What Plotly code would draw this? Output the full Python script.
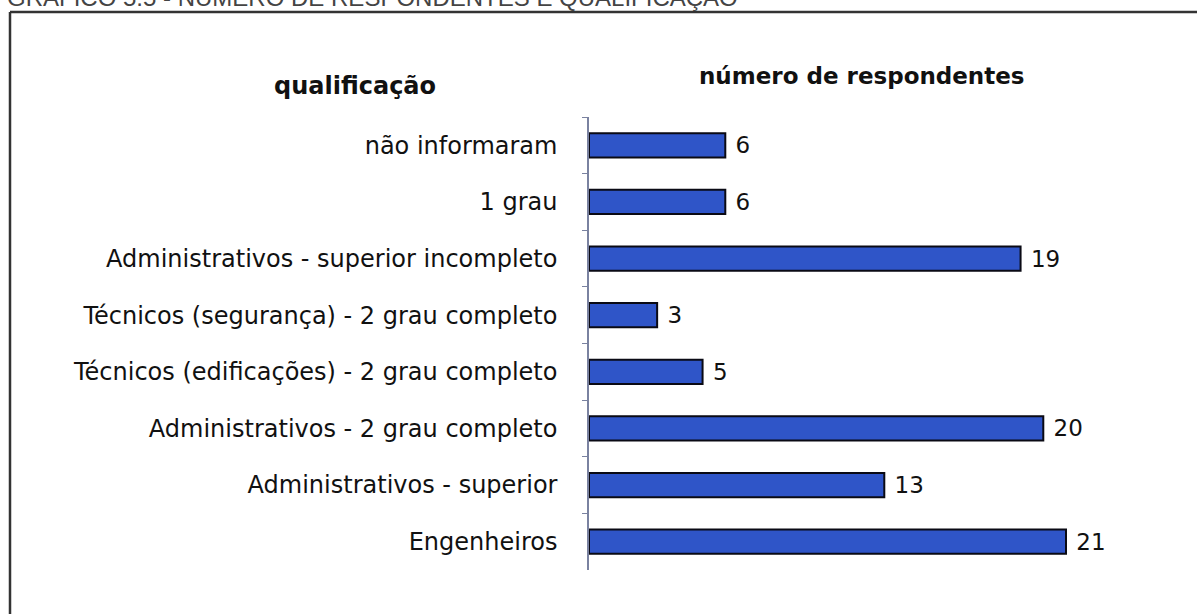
import plotly.graph_objects as go

categories = [
    "não informaram",
    "1 grau",
    "Administrativos - superior incompleto",
    "Técnicos (segurança) - 2 grau completo",
    "Técnicos (edificações) - 2 grau completo",
    "Administrativos - 2 grau completo",
    "Administrativos - superior",
    "Engenheiros",
]
values = [6, 6, 19, 3, 5, 20, 13, 21]

title_text = "GRÁFICO 5.5 - NÚMERO DE RESPONDENTES E QUALIFICAÇÃO"
left_header = "qualificação"
right_header = "número de respondentes"

W, H = 1197, 614
FONT = "DejaVu Sans, Liberation Sans, Arial, sans-serif"
TFONT = "Liberation Sans, Arial, sans-serif"

def px(x):
    return x / W

def py(y):
    return 1 - y / H

x0_px, x1_px = 589, 1150
unit_px = (1066 - 589) / 21.0

fig = go.Figure()
fig.add_trace(go.Bar(
    x=values,
    y=categories,
    orientation="h",
    marker=dict(color="#2f55c8", line=dict(color="#0a0a14", width=2)),
    width=0.43,
    texttemplate=" %{x}",
    textposition="outside",
    constraintext="none",
    textfont=dict(family=FONT, size=23, color="#111111"),
    cliponaxis=False,
    hoverinfo="x+y",
))

fig.update_layout(
    width=W, height=H,
    margin=dict(l=0, r=0, t=0, b=0),
    paper_bgcolor="white",
    plot_bgcolor="white",
    showlegend=False,
    font=dict(family=FONT, color="#111111"),
    xaxis=dict(
        domain=[px(x0_px), px(x1_px)],
        range=[0, (x1_px - x0_px) / unit_px],
        visible=False,
        showgrid=False,
        zeroline=False,
    ),
    yaxis=dict(
        domain=[py(570), py(117)],
        type="category",
        categoryorder="array",
        categoryarray=categories,
        range=[7.5, -0.5],
        showline=True,
        linecolor="#7a82a0",
        linewidth=1.5,
        ticks="outside",
        tickson="boundaries",
        ticklen=5,
        tickcolor="#7a82a0",
        tickwidth=1,
        ticklabelstandoff=25,
        showgrid=False,
        tickfont=dict(family=FONT, size=24, color="#111111"),
    ),
    shapes=[
        dict(type="line", xref="paper", yref="paper",
             x0=px(10), x1=px(1197), y0=py(12), y1=py(12),
             line=dict(color="#333333", width=2.5)),
        dict(type="line", xref="paper", yref="paper",
             x0=px(10), x1=px(10), y0=py(12), y1=py(614),
             line=dict(color="#333333", width=2.5)),
    ],
    annotations=[
        dict(text=title_text, xref="paper", yref="paper",
             x=px(5), y=py(13), xanchor="left", yanchor="bottom",
             showarrow=False,
             font=dict(family=TFONT, size=24, color="#444444")),
        dict(text="<b>" + left_header + "</b>", xref="paper", yref="paper",
             x=px(355), y=py(86), xanchor="center", yanchor="middle",
             showarrow=False,
             font=dict(family=FONT, size=24, color="#111111")),
        dict(text="<b>" + right_header + "</b>", xref="paper", yref="paper",
             x=px(862), y=py(76), xanchor="center", yanchor="middle",
             showarrow=False,
             font=dict(family=FONT, size=23, color="#111111")),
    ],
)

fig.write_html(
    "out.html",
    config={"displayModeBar": False},
    post_script="document.body.style.margin='0px';document.body.style.overflow='hidden';",
)
